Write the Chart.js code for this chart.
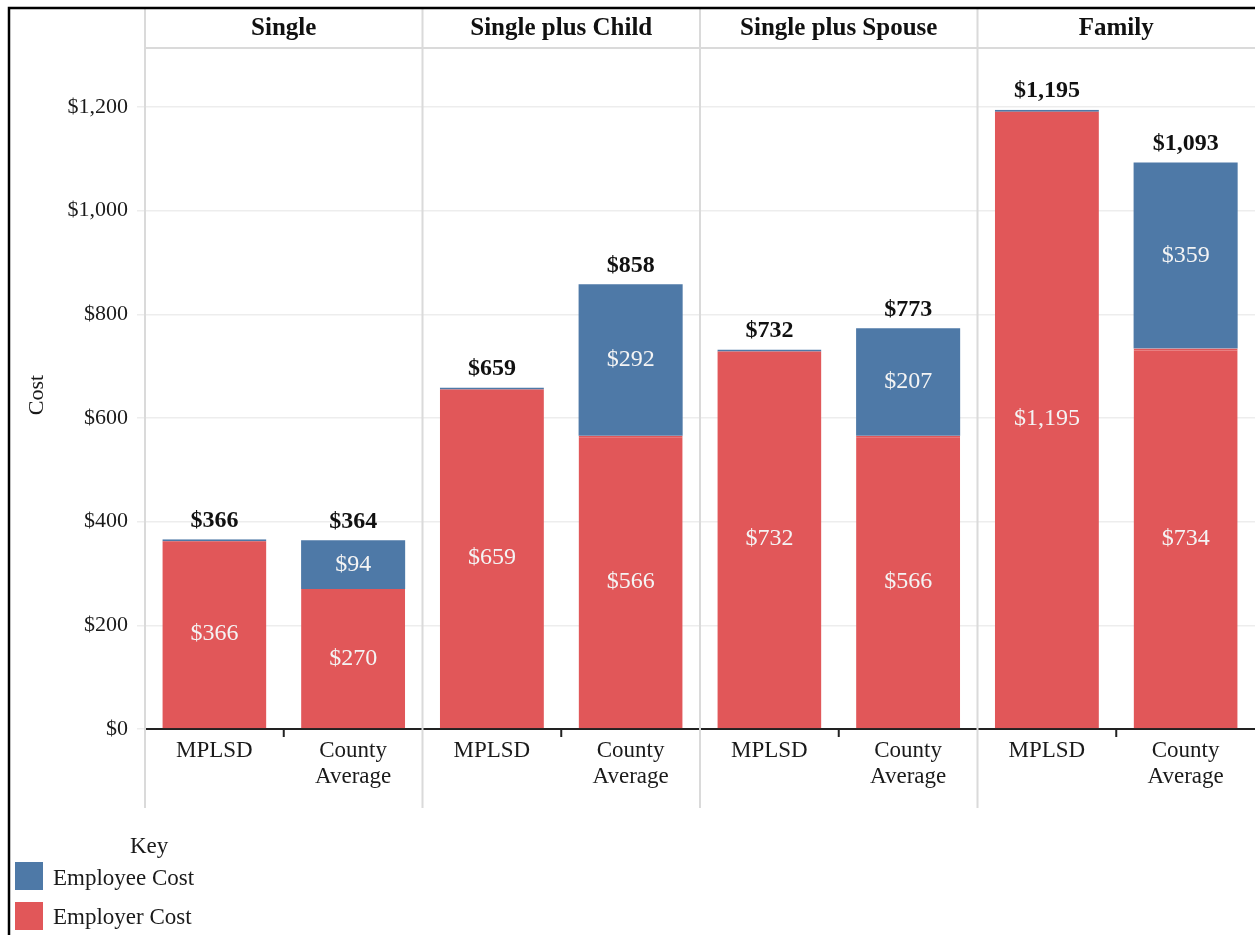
<!DOCTYPE html>
<html>
<head>
<meta charset="utf-8">
<script src="https://cdn.jsdelivr.net/npm/chart.js@4.4.1/dist/chart.umd.min.js"></script>
<style>
    body { margin: 0; background: #fff; }
    #wrap { position: relative; width: 1255px; height: 935px; overflow: hidden; }
    #chart { position: absolute; left: 0; top: 0; }
    .key { position: absolute; font-family: 'Liberation Serif', 'Times New Roman', serif; font-size: 23px; color: #1a1a1a; line-height: 1; }
    .swatch { position: absolute; width: 28px; height: 28px; }
</style>
</head>
<body>
<div id="wrap">
    <canvas id="chart" width="1255" height="935"></canvas>
    <div class="key" style="left:130px; top:834px;">Key</div>
    <div class="swatch" style="left:15px; top:862px; background:#4e79a7;"></div>
    <div class="key" style="left:53px; top:866px;">Employee Cost</div>
    <div class="swatch" style="left:15px; top:902px; background:#e15759;"></div>
    <div class="key" style="left:53px; top:905px;">Employer Cost</div>
</div>
<script>
// Chart data
const panels = ['Single', 'Single plus Child', 'Single plus Spouse', 'Family'];
const groups = [['MPLSD'], ['County', 'Average']];
const employerCost = [366, 270, 659, 566, 732, 566, 1195, 734];
const employeeCost = [0, 94, 0, 292, 0, 207, 0, 359];
const yTicks = [0, 200, 400, 600, 800, 1000, 1200];

const SERIF = "'Liberation Serif', 'Times New Roman', serif";
const RED = '#e15759';
const BLUE = '#4e79a7';
const SEP = '#dadada';

// one category per bar, two per panel
const labels = [];
panels.forEach(() => groups.forEach(g => labels.push(g)));

const money = v => '$' + v.toLocaleString('en-US');

// panel headers, separators, frame, value labels
const panelPlugin = {
    id: 'panels',
    afterDraw(chart) {
        const ctx = chart.ctx;
        const a = chart.chartArea;
        const x = chart.scales.x;
        ctx.save();

        // separators between panels
        const edges = [a.left];
        for (let k = 1; k < panels.length; k++) {
            edges.push((x.getPixelForValue(2 * k - 1) + x.getPixelForValue(2 * k)) / 2);
        }
        edges.push(a.right);
        ctx.strokeStyle = SEP;
        ctx.lineWidth = 2;
        for (let k = 0; k < panels.length; k++) {
            ctx.beginPath();
            ctx.moveTo(edges[k], 8);
            ctx.lineTo(edges[k], 808);
            ctx.stroke();
        }
        // header bottom line
        ctx.beginPath();
        ctx.moveTo(a.left, 48);
        ctx.lineTo(a.right, 48);
        ctx.stroke();

        // panel titles
        ctx.fillStyle = '#111';
        ctx.font = 'bold 25px ' + SERIF;
        ctx.textAlign = 'center';
        ctx.textBaseline = 'middle';
        panels.forEach((p, k) => ctx.fillText(p, (edges[k] + edges[k + 1]) / 2, 29));

        // tick marks between the two bars of each panel
        ctx.strokeStyle = '#222';
        ctx.lineWidth = 2;
        for (let k = 0; k < panels.length; k++) {
            const tx = (x.getPixelForValue(2 * k) + x.getPixelForValue(2 * k + 1)) / 2;
            ctx.beginPath();
            ctx.moveTo(tx, a.bottom);
            ctx.lineTo(tx, a.bottom + 8);
            ctx.stroke();
        }

        // frame
        ctx.strokeStyle = '#000';
        ctx.lineWidth = 2.5;
        ctx.beginPath();
        ctx.moveTo(9, 935);
        ctx.lineTo(9, 8);
        ctx.lineTo(1255, 8);
        ctx.stroke();

        // y axis title
        ctx.save();
        ctx.translate(37, 395);
        ctx.rotate(-Math.PI / 2);
        ctx.font = '22px ' + SERIF;
        ctx.fillStyle = '#1a1a1a';
        ctx.fillText('Cost', 0, 0);
        ctx.restore();

        // value labels inside segments
        ctx.font = '24px ' + SERIF;
        ctx.fillStyle = '#f4f4f4';
        chart.data.datasets.forEach((ds, di) => {
            chart.getDatasetMeta(di).data.forEach((el, i) => {
                const v = ds.data[i];
                if (!v) return;
                ctx.fillText(money(v), el.x, (el.y + el.base) / 2);
            });
        });

        // totals above bars
        ctx.font = 'bold 24px ' + SERIF;
        ctx.fillStyle = '#111';
        const topMeta = chart.getDatasetMeta(1);
        topMeta.data.forEach((el, i) => {
            const total = employerCost[i] + employeeCost[i];
            ctx.fillText(money(total), el.x, el.y - 19);
        });

        ctx.restore();
    }
};

const ctx = document.getElementById('chart').getContext('2d');
new Chart(ctx, {
    type: 'bar',
    data: {
        labels: labels,
        datasets: [
            {
                label: 'Employer Cost',
                data: employerCost,
                backgroundColor: RED,
                // thin employee-colour edge where the employee share is zero
                borderColor: employeeCost.map(v => v ? RED : BLUE),
                borderWidth: { top: 2, left: 0, right: 0, bottom: 0 },
                borderSkipped: 'start',
                categoryPercentage: 1,
                barPercentage: 0.75
            },
            {
                label: 'Employee Cost',
                data: employeeCost,
                backgroundColor: BLUE,
                categoryPercentage: 1,
                barPercentage: 0.75
            }
        ]
    },
    options: {
        responsive: false,
        animation: false,
        devicePixelRatio: 1,
        layout: { padding: { left: 10, top: 49, right: 0, bottom: 0 } },
        plugins: {
            legend: { display: false },
            tooltip: { enabled: false }
        },
        scales: {
            x: {
                stacked: true,
                grid: { display: false, drawTicks: false },
                border: { display: true, color: '#222', width: 2 },
                ticks: {
                    font: { family: SERIF, size: 23, lineHeight: 1.13 },
                    color: '#1a1a1a',
                    padding: 9,
                    maxRotation: 0,
                    autoSkip: false
                },
                afterFit: scale => { scale.height = 206; }
            },
            y: {
                stacked: true,
                min: 0,
                max: 1312,
                afterBuildTicks: scale => {
                    scale.ticks = yTicks.map(v => ({ value: v }));
                },
                grid: {
                    color: '#ededed',
                    lineWidth: 1.5,
                    tickLength: 8
                },
                border: { display: false },
                ticks: {
                    font: { family: SERIF, size: 22 },
                    color: '#1a1a1a',
                    padding: 9,
                    callback: v => money(v)
                },
                afterFit: scale => { scale.width = 135; }
            }
        }
    },
    plugins: [panelPlugin]
});
</script>
</body>
</html>
